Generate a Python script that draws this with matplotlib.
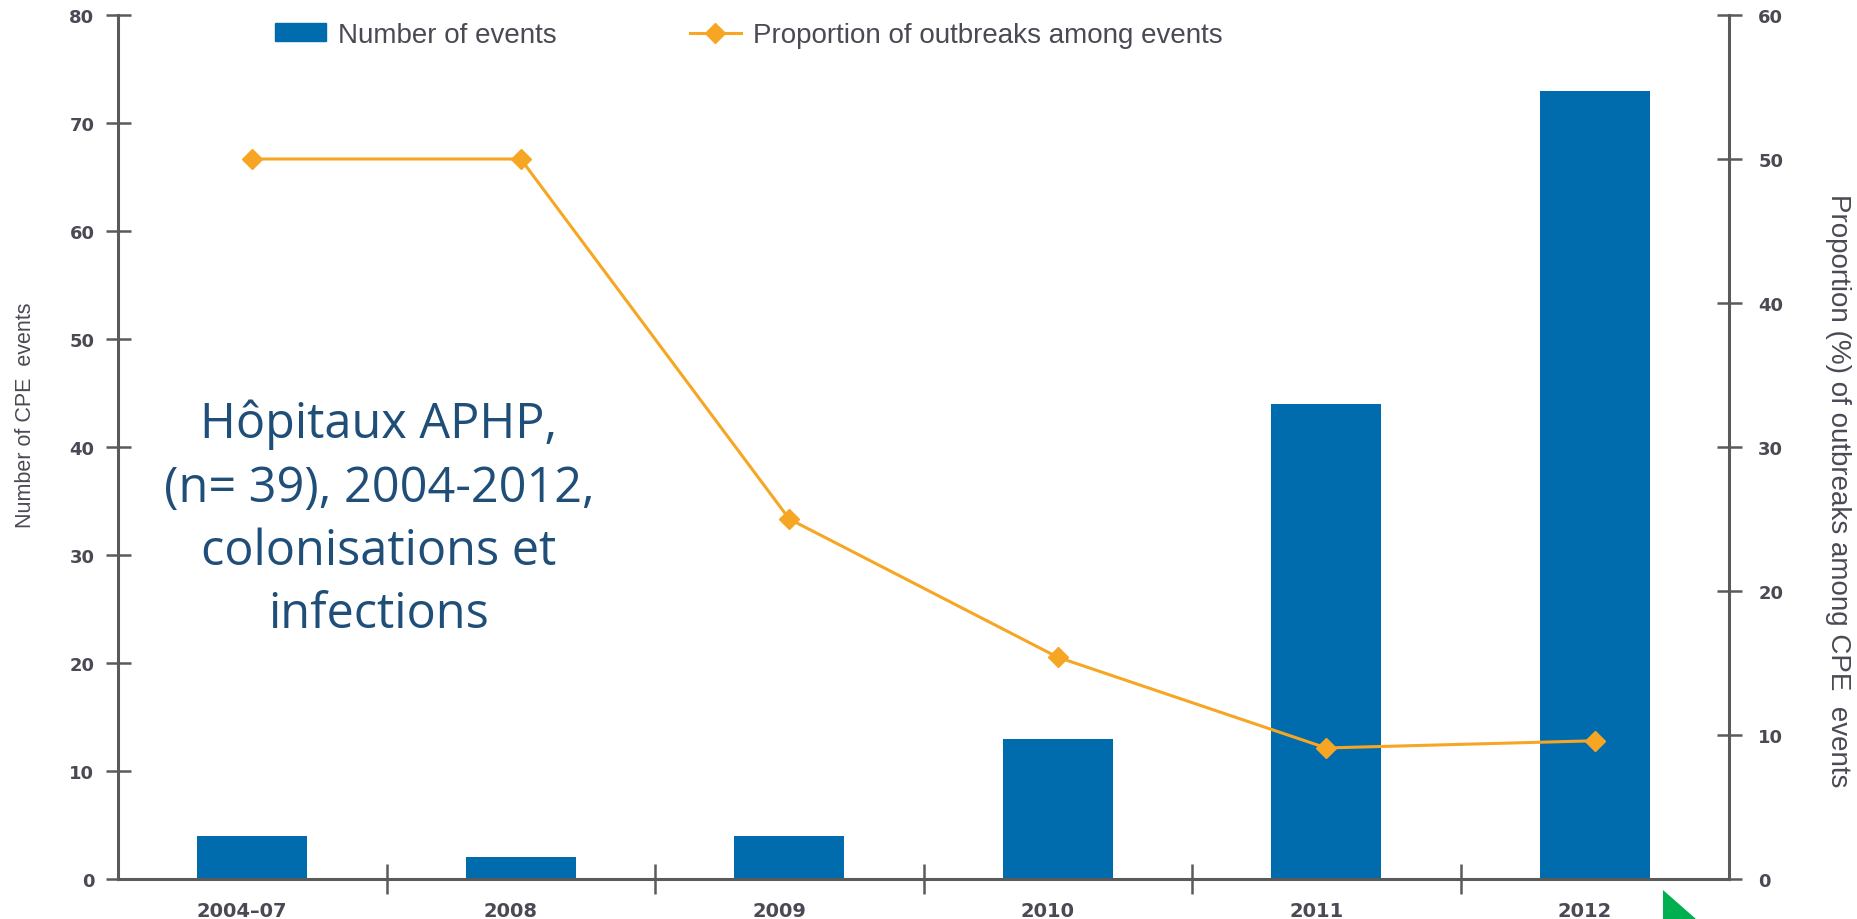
import matplotlib
matplotlib.use("Agg")
import matplotlib.pyplot as plt
import matplotlib.transforms as mtransforms
from matplotlib.patches import Polygon
from matplotlib.lines import Line2D
from matplotlib.patches import Patch

categories = ["2004–07", "2008", "2009", "2010", "2011", "2012"]
n_events = [4, 2, 4, 13, 44, 73]
prop_outbreaks = [50.0, 50.0, 25.0, 15.4, 9.1, 9.6]
left_ticks = [0, 10, 20, 30, 40, 50, 60, 70, 80]
right_ticks = [0, 10, 20, 30, 40, 50, 60]

W, H = 1857, 920
fig = plt.figure(figsize=(W / 100, H / 100), dpi=100)
fig.patch.set_facecolor("white")

narrow = ["Liberation Sans", "DejaVu Sans"]
axc = "#5a5a5a"
txtc = "#4a4a55"
blue = "#006CAE"
orange = "#F6A623"

ax = fig.add_axes([118 / W, 1 - 880 / H, (1729 - 118) / W, (880 - 16) / H])
x = list(range(len(categories)))
ax.bar(x, n_events, width=0.41, color=blue, zorder=2)
ax.set_xlim(-0.5, len(categories) - 0.5)
ax.set_ylim(0, 80)

ax2 = ax.twinx()
ax2.plot(x, prop_outbreaks, color=orange, lw=2.2, marker="D", ms=10, mec=orange, mfc=orange, zorder=3)
ax2.set_ylim(0, 60)

for a in (ax, ax2):
    a.spines["top"].set_visible(False)
    for s in ("left", "right", "bottom"):
        a.spines[s].set_color(axc)
        a.spines[s].set_linewidth(2.2)
    a.patch.set_visible(False)

ax.spines["right"].set_visible(False)
ax2.spines["left"].set_visible(False)
ax2.spines["bottom"].set_visible(False)

tickfont = dict(family="DejaVu Sans", fontsize=13, color=txtc, fontweight="bold")
ax.set_yticks(left_ticks)
ax.set_yticklabels([str(t) for t in left_ticks], **tickfont)
ax.tick_params(axis="y", direction="inout", length=18, width=1.8, color=axc, pad=8)
ax2.set_yticks(right_ticks)
ax2.set_yticklabels([str(t) for t in right_ticks], **tickfont)
ax2.tick_params(axis="y", direction="inout", length=18, width=1.8, color=axc, pad=12)

bounds = [i + 0.5 for i in range(len(categories) - 1)]
ax.set_xticks(bounds)
ax.set_xticklabels([])
ax.tick_params(axis="x", which="major", direction="inout", length=22, width=1.8, color=axc)
ax.set_xticks(x, minor=True)
ax.set_xticklabels(categories, minor=True, family="DejaVu Sans", fontsize=14, color=txtc, fontweight="bold")
ax.tick_params(axis="x", which="minor", length=0, pad=16)
shift = mtransforms.ScaledTranslation(-10 / 100, 0, fig.dpi_scale_trans)
for lbl in ax.get_xticklabels(minor=True):
    lbl.set_transform(lbl.get_transform() + shift)

# y-axis titles
fig.text(26 / W, 1 - 415 / H, "Number of CPE  events", rotation=90, ha="center", va="center",
         family=narrow, fontsize=15.5, color=txtc)
fig.text(1838 / W, 1 - 491 / H, "Proportion (%) of outbreaks among CPE  events", rotation=270,
         ha="center", va="center", family=narrow, fontsize=20, color=txtc)

# legend
handles = [Patch(facecolor=blue, edgecolor=blue),
           Line2D([0], [0], color=orange, lw=2.2, marker="D", ms=10, mfc=orange, mec=orange)]
leg = fig.legend(handles, ["Number of events", "Proportion of outbreaks among events"],
                 loc="center left", bbox_to_anchor=(275 / W, 1 - 36 / H), ncol=2, frameon=False,
                 prop={"family": narrow, "size": 20}, handlelength=1.83, handleheight=0.6,
                 columnspacing=4.8, handletextpad=0.43, labelcolor=txtc,
                 borderpad=0, borderaxespad=0)

# annotation text
fig.text(379 / W, 1 - 520 / H, "Hôpitaux APHP,\n(n= 39), 2004-2012,\ncolonisations et\ninfections",
         ha="center", va="center", family=["Open Sans", "DejaVu Sans"], fontsize=35,
         color="#1F4E79", linespacing=1.37)

# green corner shape
tri = Polygon([[1663 / W, 1 - 891 / H], [1663 / W, 0], [1696 / W, 0]], closed=True,
              transform=fig.transFigure, facecolor="#00B050", edgecolor="none")
fig.patches.append(tri)

fig.savefig("out.png", dpi=100)
